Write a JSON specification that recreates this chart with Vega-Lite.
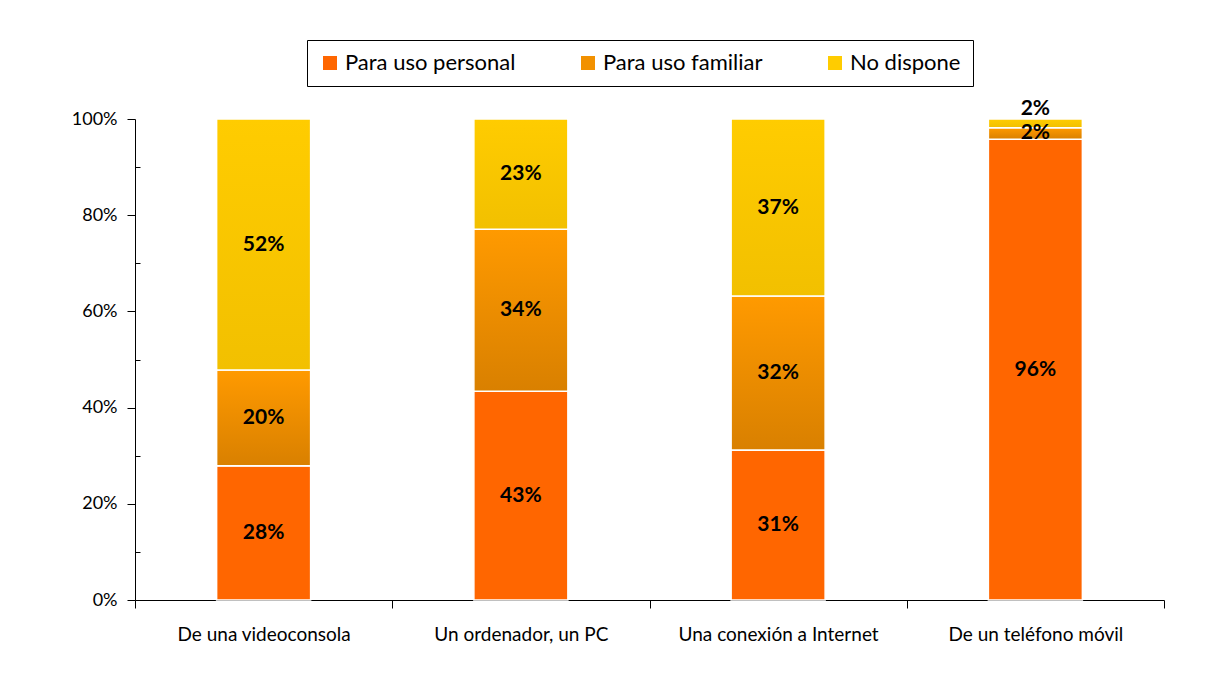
{
  "$schema": "https://vega.github.io/schema/vega-lite/v6.json",
  "width": 1029,
  "height": 481,
  "autosize": {"type": "none"},
  "padding": {"left": 135, "top": 119, "right": 42, "bottom": 86},
  "background": "white",
  "config": {
    "view": {"stroke": null},
    "font": "Lato"
  },
  "data": {
    "values": [
      {"cat": "De una videoconsola", "tipo": "Para uso personal", "ord": 1, "v": 0.279},
      {"cat": "De una videoconsola", "tipo": "Para uso familiar", "ord": 2, "v": 0.199},
      {"cat": "De una videoconsola", "tipo": "No dispone", "ord": 3, "v": 0.522},
      {"cat": "Un ordenador, un PC", "tipo": "Para uso personal", "ord": 1, "v": 0.434},
      {"cat": "Un ordenador, un PC", "tipo": "Para uso familiar", "ord": 2, "v": 0.337},
      {"cat": "Un ordenador, un PC", "tipo": "No dispone", "ord": 3, "v": 0.229},
      {"cat": "Una conexión a Internet", "tipo": "Para uso personal", "ord": 1, "v": 0.312},
      {"cat": "Una conexión a Internet", "tipo": "Para uso familiar", "ord": 2, "v": 0.320},
      {"cat": "Una conexión a Internet", "tipo": "No dispone", "ord": 3, "v": 0.368},
      {"cat": "De un teléfono móvil", "tipo": "Para uso personal", "ord": 1, "v": 0.958},
      {"cat": "De un teléfono móvil", "tipo": "Para uso familiar", "ord": 2, "v": 0.024},
      {"cat": "De un teléfono móvil", "tipo": "No dispone", "ord": 3, "v": 0.018}
    ]
  },
  "transform": [
    {"stack": "v", "groupby": ["cat"], "sort": [{"field": "ord", "order": "ascending"}], "as": ["y0", "y1"]},
    {"calculate": "(datum.y0 + datum.y1) / 2", "as": "ym"}
  ],
  "encoding": {
    "x": {
      "field": "cat",
      "type": "nominal",
      "sort": ["De una videoconsola", "Un ordenador, un PC", "Una conexión a Internet", "De un teléfono móvil"],
      "scale": {"paddingInner": 0, "paddingOuter": 0},
      "axis": {
        "title": null,
        "labelAngle": 0,
        "tickBand": "extent",
        "labelFont": "Lato",
        "labelFontSize": 19,
        "labelLimit": 0,
        "labelColor": "#000000",
        "labelPadding": 17,
        "domainColor": "#000000",
        "tickColor": "#000000",
        "tickSize": 8,
        "ticks": true
      }
    }
  },
  "layer": [
    {
      "mark": {"type": "bar", "size": 94, "stroke": "white", "strokeWidth": 1.5},
      "encoding": {
        "y": {
          "field": "y0",
          "type": "quantitative",
          "scale": {"domain": [0, 1], "nice": false},
          "axis": {
            "title": null,
            "values": [0, 0.1, 0.2, 0.3, 0.4, 0.5, 0.6, 0.7, 0.8, 0.9, 1],
            "labelExpr": "round(datum.value * 10) % 2 == 0 ? format(datum.value, '.0%') : ''",
            "grid": false,
            "labelFont": "Lato",
            "labelFontSize": 18,
            "labelColor": "#000000",
            "labelPadding": 10,
            "domainColor": "#000000",
            "tickColor": "#000000",
            "tickSize": {"condition": {"test": "round(datum.value * 10) % 2 == 1", "value": -5}, "value": 8}
          }
        },
        "y2": {"field": "y1"},
        "color": {
          "field": "tipo",
          "type": "nominal",
          "scale": {
            "domain": ["Para uso personal", "Para uso familiar", "No dispone"],
            "range": ["#FF6600", "#F29100", "#FFCC00"]
          },
          "legend": {
            "title": null,
            "orient": "none",
            "legendX": 172,
            "legendY": -79,
            "direction": "horizontal",
            "symbolType": "square",
            "symbolSize": 196,
            "symbolStrokeWidth": 0,
            "labelFont": "Lato",
            "labelFontSize": 22,
            "labelLimit": 0,
            "labelColor": "#000000",
            "labelOffset": 4,
            "columnPadding": 61,
            "padding": 12,
            "strokeColor": "#000000",
            "fillColor": "white"
          }
        }
      }
    },
    {
      "transform": [{"filter": "datum.ord == 2"}],
      "mark": {
        "type": "bar",
        "size": 94,
        "stroke": "white",
        "strokeWidth": 1.5,
        "color": {
          "gradient": "linear",
          "x1": 0, "y1": 0, "x2": 0, "y2": 1,
          "stops": [
            {"offset": 0, "color": "#FF9A00"},
            {"offset": 1, "color": "#D98000"}
          ]
        }
      },
      "encoding": {
        "y": {"field": "y0", "type": "quantitative"},
        "y2": {"field": "y1"}
      }
    },
    {
      "transform": [{"filter": "datum.ord == 3"}],
      "mark": {
        "type": "bar",
        "size": 94,
        "stroke": "white",
        "strokeWidth": 1.5,
        "color": {
          "gradient": "linear",
          "x1": 0, "y1": 0, "x2": 0, "y2": 1,
          "stops": [
            {"offset": 0, "color": "#FFCC00"},
            {"offset": 1, "color": "#F2C000"}
          ]
        }
      },
      "encoding": {
        "y": {"field": "y0", "type": "quantitative"},
        "y2": {"field": "y1"}
      }
    },
    {
      "transform": [{"filter": "!(datum.cat == 'De un teléfono móvil' && datum.ord == 3)"}],
      "mark": {"type": "text", "font": "Lato", "fontSize": 21, "fontWeight": "bold", "color": "#000000", "baseline": "middle", "align": "center"},
      "encoding": {
        "y": {"field": "ym", "type": "quantitative"},
        "text": {"field": "v", "type": "quantitative", "format": ".0%"}
      }
    },
    {
      "transform": [{"filter": "datum.cat == 'De un teléfono móvil' && datum.ord == 3"}],
      "mark": {"type": "text", "font": "Lato", "fontSize": 21, "fontWeight": "bold", "color": "#000000", "baseline": "middle", "align": "center", "dy": -14},
      "encoding": {
        "y": {"field": "ym", "type": "quantitative"},
        "text": {"field": "v", "type": "quantitative", "format": ".0%"}
      }
    }
  ]
}
